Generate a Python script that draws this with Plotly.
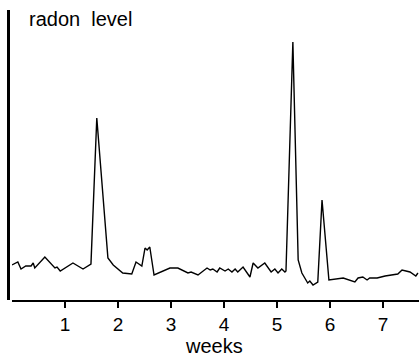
import plotly.graph_objects as go

weeks = [0.00, 0.11, 0.17, 0.26, 0.36, 0.40, 0.43, 0.62, 0.81, 0.85, 0.91, 1.15, 1.34, 1.42, 1.49,
         1.60, 1.81, 1.91, 2.09, 2.26, 2.34, 2.45, 2.51, 2.55, 2.60, 2.68, 2.98, 3.13, 3.32, 3.38,
         3.42, 3.45, 3.51, 3.68, 3.74, 3.79, 3.87, 3.92, 4.02, 4.08, 4.15, 4.21, 4.26, 4.36, 4.42,
         4.49, 4.55, 4.64, 4.77, 4.89, 4.96, 5.02, 5.09, 5.15, 5.17, 5.30, 5.40, 5.47, 5.58, 5.62,
         5.68, 5.77, 5.85, 5.98, 6.25, 6.47, 6.53, 6.62, 6.70, 6.75, 6.89, 7.04, 7.28, 7.36, 7.51,
         7.62, 7.66]
radon = [35, 38, 31, 34, 34, 37, 32, 43, 32, 33, 29, 37, 31, 34, 36,
         182, 42, 35, 27, 26, 38, 34, 52, 50, 53, 25, 32, 32, 27, 28,
         27, 27, 25, 32, 30, 31, 28, 32, 29, 31, 28, 31, 28, 33, 28,
         23, 37, 32, 37, 28, 31, 27, 31, 28, 29, 258, 40, 27, 17, 19,
         15, 18, 100, 20, 22, 18, 22, 23, 20, 22, 22, 24, 26, 30, 28,
         24, 27]
tick_vals = [1, 2, 3, 4, 5, 6, 7]
tick_text = ["1", "2", "3", "4", "5", "6", "7"]

FONT = "Liberation Sans, Arial, sans-serif"

fig = go.Figure(go.Scatter(x=weeks, y=radon, mode="lines",
                           line=dict(color="black", width=1.4), hoverinfo="skip"))

fig.update_layout(
    width=419, height=358,
    margin=dict(l=12, r=0, t=10, b=58, autoexpand=False),
    paper_bgcolor="white", plot_bgcolor="white",
    showlegend=False,
    font=dict(family=FONT, color="black", size=18),
    xaxis=dict(range=[0, 7.68], tickvals=tick_vals, ticktext=tick_text, automargin=False,
               showgrid=False, zeroline=False, showline=True, linecolor="black",
               linewidth=2, ticks="outside", ticklen=6, tickwidth=2, tickcolor="black",
               tickfont=dict(size=19, family=FONT)),
    yaxis=dict(range=[0, 290], showgrid=False, zeroline=False, showline=False,
               showticklabels=False, ticks="", automargin=False),
    shapes=[dict(type="line", xref="paper", yref="paper",
                 x0=-3.5/407, x1=-3.5/407, y0=0, y1=1,
                 line=dict(color="black", width=3))],
    annotations=[
        dict(text="radon  level", xref="paper", yref="paper",
             x=15/407, y=(300-19)/290, xanchor="left", yanchor="middle",
             showarrow=False, font=dict(size=20, family=FONT)),
        dict(text="weeks", xref="paper", yref="paper",
             x=(214-12)/407, y=-(346-300)/290, xanchor="center", yanchor="middle",
             showarrow=False, font=dict(size=20, family=FONT)),
    ],
)

fig.write_html("out.html", config={"displayModeBar": False, "staticPlot": True},
               post_script="document.body.style.margin='0';document.body.style.overflow='hidden';")
